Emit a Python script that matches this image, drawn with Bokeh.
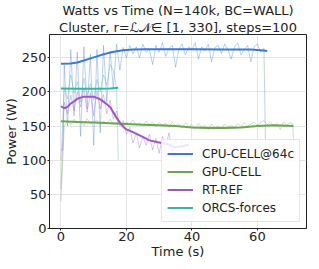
from bokeh.plotting import figure
from bokeh.models import Title, Legend, LegendItem, FixedTicker
from bokeh.embed import file_html
from bokeh.resources import INLINE

# ---------------- data ----------------
series_names = ["CPU-CELL@64c", "GPU-CELL", "RT-REF", "ORCS-forces"]
colors = ["#3c78d8", "#6aa84f", "#9b59c6", "#3cb4a0"]

cpu_raw_t = [0, 0.6] + list(range(1, 63)) + [62.5, 63]
cpu_raw_w = [115, 115, 240, 150, 262, 165, 258, 135, 266, 175, 255, 122,
             262, 140, 268, 185, 260, 205, 270, 232, 265, 250, 268, 256,
             266, 250, 270, 258, 262, 240, 268, 258, 272, 252, 264, 268,
             236, 262, 270, 254, 266, 262, 272, 248, 266, 260, 270, 244,
             265, 268, 256, 270, 262, 248, 266, 272, 254, 262, 268, 244,
             266, 270, 258, 264, 118, 118]
cpu_s_t = [0, 3, 5, 7, 9, 11, 13, 15, 17, 19, 22, 26, 30, 40, 50, 58, 61, 63]
cpu_s_w = [241, 241.5, 243, 246, 249, 252, 255, 257.5, 259.5, 261, 262, 262.5,
           262.5, 262.5, 262, 262, 261, 260]

gpu_raw_t = list(range(0, 71)) + [70.8, 71.3]
gpu_raw_w = [40, 150, 158, 152, 160, 154, 157, 150, 161, 153, 156, 159, 151,
             157, 154, 160, 152, 155, 158, 150, 156, 153, 159, 151, 155, 150,
             157, 152, 156, 149, 155, 151, 154, 148, 156, 150, 153, 147, 155,
             149, 152, 146, 154, 148, 151, 145, 153, 147, 150, 146, 153, 148,
             151, 146, 154, 149, 155, 150, 153, 156, 151, 155, 158, 152, 156,
             150, 154, 145, 156, 152, 155, 153, 100]
gpu_s_t = [0, 5, 10, 15, 20, 25, 30, 35, 40, 45, 50, 55, 60, 65, 71]
gpu_s_w = [157, 156, 155, 154, 153, 152, 151, 150, 148, 147, 147, 148, 150,
           151, 150]

rt_raw_t = list(range(0, 41))
rt_raw_w = [58, 185, 168, 195, 172, 200, 178, 205, 170, 198, 165, 202, 175,
            196, 168, 188, 160, 172, 150, 158, 138, 148, 125, 140, 118, 135,
            122, 138, 115, 132, 110, 135, 120, 140, 112, 130, 118, 128, 115,
            125, 95]
rt_s_t = [0, 1, 2, 3, 4, 5, 7, 10, 12, 14, 15, 16, 17, 18, 19, 20, 22, 25,
          27, 30, 33, 35, 37, 39]
rt_s_w = [179, 176, 178, 183, 186, 190, 193, 193, 189, 182, 178, 170, 162,
          155, 149, 145, 141, 134, 129, 126, 123, 119, 120, 123]

orcs_raw_t = list(range(0, 18)) + [17.5]
orcs_raw_w = [100, 205, 190, 225, 198, 215, 185, 220, 195, 212, 188, 218, 200,
              225, 210, 240, 232, 205, 100]
orcs_s_t = [0, 5, 10, 15, 17.5]
orcs_s_w = [205, 204.5, 204.5, 205, 206]

x_ticks = [0, 20, 40, 60]
y_ticks = [0, 50, 100, 150, 200, 250]

FONT = "DejaVu Sans"

# ---------------- figure ----------------
p = figure(width=308, height=261, x_range=(-3.5, 75), y_range=(0, 284),
           output_backend="svg", toolbar_location=None,
           min_border_left=0, min_border_right=2, min_border_top=0,
           min_border_bottom=0)
p.background_fill_color = "white"
p.border_fill_color = "white"
p.outline_line_color = "#222222"
p.outline_line_width = 1

p.title.text = "Watts vs Time (N=140k, BC=WALL)"
p.title.text_font = FONT
p.title.text_font_size = "13px"
p.title.text_font_style = "normal"
p.title.align = "center"
p.title.standoff = 0
p.title.text_color = "#222222"
p.add_layout(Title(text="Cluster, r=\u2112\U0001D4A9\u2208 [1, 330], steps=100",
                   text_font=FONT, text_font_size="13px",
                   text_font_style="normal", align="center", standoff=0,
                   text_color="#222222"), "above")

for ax in (p.xaxis[0], p.yaxis[0]):
    ax.major_label_text_font = FONT
    ax.major_label_text_font_size = "13px"
    ax.major_label_text_color = "#222222"
    ax.axis_label_text_font = FONT
    ax.axis_label_text_font_size = "13px"
    ax.axis_label_text_font_style = "normal"
    ax.axis_label_text_color = "#222222"
    ax.major_tick_out = 2
    ax.major_tick_in = 0
    ax.minor_tick_out = 0
    ax.minor_tick_in = 0
    ax.axis_line_color = "#222222"
    ax.major_tick_line_color = "#222222"
    ax.major_label_standoff = 1
    ax.axis_label_standoff = 0

p.xaxis.ticker = FixedTicker(ticks=x_ticks)
p.yaxis.ticker = FixedTicker(ticks=y_ticks)
p.xaxis.axis_label = "Time (s)"
p.yaxis.axis_label = "Power (W)"
p.grid.grid_line_color = "#e6e6e6"
p.grid.grid_line_width = 1

raws = [(cpu_raw_t, cpu_raw_w), (gpu_raw_t, gpu_raw_w),
        (rt_raw_t, rt_raw_w), (orcs_raw_t, orcs_raw_w)]
smooths = [(cpu_s_t, cpu_s_w), (gpu_s_t, gpu_s_w),
           (rt_s_t, rt_s_w), (orcs_s_t, orcs_s_w)]

for (t, w), c in zip(raws, colors):
    p.line(t, w, color=c, line_width=1, line_alpha=0.35)

items = []
for (t, w), c, name in zip(smooths, colors, series_names):
    r = p.line(t, w, color=c, line_width=2)
    items.append(LegendItem(label=name, renderers=[r]))

legend = Legend(items=items, location="bottom_right")
legend.label_text_font = FONT
legend.label_text_font_size = "12px"
legend.label_text_color = "#222222"
legend.glyph_width = 26
legend.glyph_height = 17
legend.label_height = 17
legend.label_standoff = 9
legend.spacing = 1
legend.padding = 5
legend.margin = 6
legend.border_line_color = "#cccccc"
legend.background_fill_alpha = 0.85
p.add_layout(legend, "center")

open("out.html", "w").write(file_html(p, INLINE))
